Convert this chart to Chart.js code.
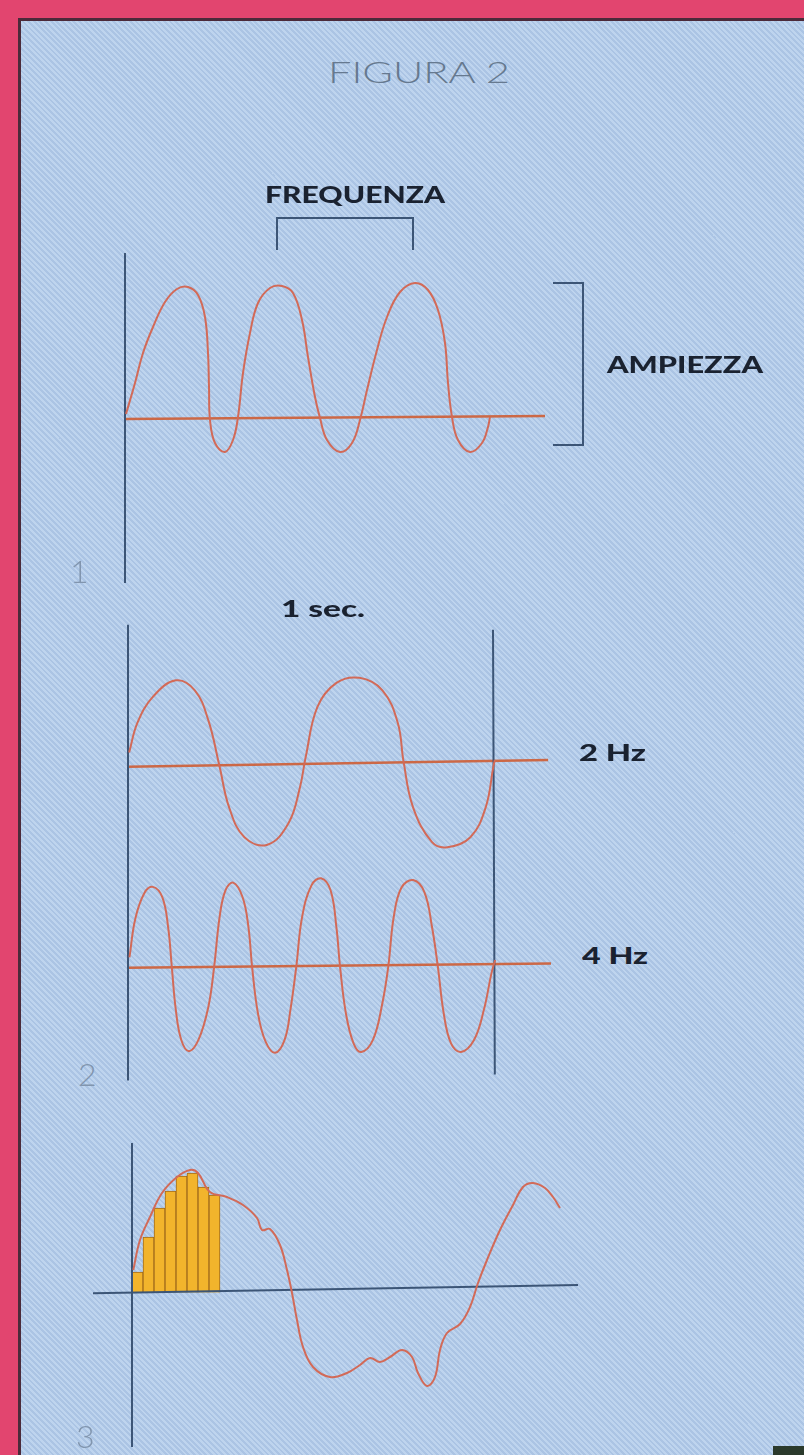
<!DOCTYPE html>
<html>
<head>
<meta charset="utf-8">
<title>Figura 2</title>
<script src="https://cdn.jsdelivr.net/npm/chart.js@4.4.1/dist/chart.umd.min.js"></script>
<style>
  html, body { margin: 0; padding: 0; }
  body {
    position: relative;
    width: 804px;
    height: 1455px;
    overflow: hidden;
    background: #e2456f;
  }
  #sheet {
    position: absolute;
    left: 18px;
    top: 18px;
    width: 786px;
    height: 1437px;
    box-sizing: border-box;
    border-left: 3px solid #4b2a3a;
    border-top: 3px solid #4b2a3a;
    background: repeating-linear-gradient(45deg, #bed4ee 0 2px, #abc4e4 2px 4px);
  }
  canvas { position: absolute; }
  .lbl {
    position: absolute;
    white-space: nowrap;
    line-height: 1;
    transform-origin: 0 0;
    z-index: 5;
  }
  .bold { font-family: Lato, "DejaVu Sans", sans-serif; font-weight: 900; color: #1a2230; }
  .thin { font-family: Lato, "Open Sans", sans-serif; font-weight: 300; }
  #corner {
    position: absolute;
    left: 773px;
    top: 1446px;
    width: 31px;
    height: 9px;
    background: #2b3a2c;
  }
</style>
</head>
<body>
<div id="sheet"></div>

<canvas id="panel1"></canvas>
<canvas id="panel2"></canvas>
<canvas id="panel3"></canvas>

<div class="lbl thin" data-w="182" style="left:328px; top:57px; font-size:29px; color:#66798f;">FIGURA 2</div>
<div class="lbl bold" data-w="180" style="left:265px; top:183px; font-size:23px;">FREQUENZA</div>
<div class="lbl bold" data-w="156" style="left:607px; top:353px; font-size:23px;">AMPIEZZA</div>
<div class="lbl bold" data-w="84" style="left:281px; top:597px; font-size:23px;">1 sec.</div>
<div class="lbl bold" data-w="67" style="left:579px; top:742px; font-size:22px;">2 Hz</div>
<div class="lbl bold" data-w="66" style="left:582px; top:945px; font-size:22px;">4 Hz</div>
<div class="lbl thin" style="left:70px; top:555px; font-size:32px; color:#8195ae;">1</div>
<div class="lbl thin" style="left:78px; top:1058px; font-size:32px; color:#8195ae;">2</div>
<div class="lbl thin" style="left:76px; top:1420px; font-size:32px; color:#8195ae;">3</div>
<div id="corner"></div>

<script>
// ---- values ----

// panel 1: x and y in divisions (10 px) from the axis / baseline
const wave1X = [0.1, 1.0, 1.8, 2.8, 4.0, 5.2, 6.3, 7.3, 8.0, 8.3, 8.4, 8.5, 9.0, 10.0, 10.8,
  11.3, 11.8, 12.5, 13.3, 14.5, 15.7, 16.8, 17.7, 18.3, 19.0, 19.5, 20.2, 21.5, 22.7, 23.5,
  24.2, 25.2, 26.2, 27.5, 29.0, 30.3, 31.3, 32.0, 32.3, 32.7, 33.3, 34.5, 35.7, 36.3, 36.5];
const wave1Y = [0.5, 3.6, 6.6, 9.2, 11.7, 13.0, 13.2, 12.4, 10.2, 6.6, 3.2, -0.1, -2.4, -3.3, -2.1,
  0.2, 4.6, 8.6, 11.6, 13.1, 13.3, 12.6, 9.9, 6.2, 2.2, 0.1, -2.1, -3.3, -2.4, -0.1,
  2.9, 6.9, 10.2, 12.7, 13.6, 12.9, 10.9, 7.6, 3.6, 0.2, -2.1, -3.3, -2.4, -0.8, 0.2];
const base1X = [0, 42.0];
const base1Y = [0, 0.3];
const axis1X = [0, 0];
const axis1Y = [16.6, -16.4];
const freqBracketX = [15.2, 15.2, 28.8, 28.8];
const freqBracketY = [16.9, 20.1, 20.1, 16.9];
const ampBracketX = [42.8, 45.8, 45.8, 42.8];
const ampBracketY = [13.6, 13.6, -2.6, -2.6];

// panel 2: time in seconds, amplitude normalised to the peak
const wave2hzT = [0.003, 0.026, 0.068, 0.131, 0.183, 0.220, 0.251, 0.277, 0.319, 0.382, 0.440, 0.471, 0.487,
  0.519, 0.571, 0.634, 0.697, 0.739, 0.755, 0.781, 0.833, 0.875, 0.938, 0.980, 1.001, 1.005];
const wave2hzA = [0.15, 0.51, 0.82, 1.02, 0.90, 0.54, -0.02, -0.51, -0.87, -0.96, -0.70, -0.27, 0.10,
  0.70, 0.99, 1.05, 0.90, 0.51, 0.04, -0.51, -0.93, -0.99, -0.87, -0.51, -0.02, 0.06];
const wave4hzT = [0.004, 0.020, 0.045, 0.068, 0.094, 0.110, 0.120, 0.131, 0.146, 0.167,
  0.193, 0.220, 0.236, 0.251, 0.267, 0.288, 0.314, 0.330, 0.340, 0.356,
  0.377, 0.403, 0.429, 0.445, 0.461, 0.477, 0.503, 0.529, 0.555, 0.571,
  0.581, 0.597, 0.618, 0.639, 0.671, 0.697, 0.713, 0.728, 0.749, 0.781,
  0.812, 0.833, 0.849, 0.865, 0.885, 0.912, 0.948, 0.975, 0.996, 1.006];
const wave4hzA = [0.10, 0.55, 0.85, 0.92, 0.80, 0.45, -0.01, -0.51, -0.86, -0.99,
  -0.86, -0.48, -0.01, 0.57, 0.88, 0.97, 0.80, 0.45, -0.01, -0.55,
  -0.88, -1.01, -0.86, -0.51, -0.01, 0.57, 0.94, 1.02, 0.88, 0.45,
  -0.01, -0.55, -0.90, -1.00, -0.86, -0.43, -0.01, 0.57, 0.91, 1.00,
  0.86, 0.45, -0.01, -0.55, -0.90, -1.00, -0.86, -0.51, -0.08, 0.07];
const base2hzT = [0, 1.151];
const base2hzA = [-0.02, 0.06];
const base4hzT = [0, 1.159];
const base4hzA = [-0.02, 0.03];
const secStartT = [0, 0];
const secStartA = [1.69, -3.80];
const secEndT = [1.0, 1.005];
const secEndA = [1.63, -3.73];

// panel 3: divisions (10 px) from the axis / baseline
const sig3X = [0.13, 0.8, 1.8, 3.0, 4.5, 5.8, 6.6, 7.8, 9.5, 11.1, 12.5, 13.0, 13.8, 14.8, 15.5,
  16.0, 16.5, 17.1, 18.1, 19.8, 21.5, 22.8, 23.8, 24.8, 25.8, 27.0, 28.0, 28.6, 29.5, 30.3,
  30.8, 31.5, 32.8, 33.8, 34.6, 35.5, 36.8, 38.1, 39.1, 40.1, 41.3, 42.1, 42.8];
const sig3Y = [2.0, 5.0, 7.3, 9.7, 11.3, 12.0, 11.7, 9.8, 9.3, 8.5, 7.2, 6.0, 6.1, 4.5, 2.0,
  -0.3, -3.0, -5.7, -7.7, -8.7, -8.3, -7.5, -6.8, -7.2, -6.7, -6.0, -6.7, -8.3, -9.6, -8.7,
  -6.0, -4.3, -3.4, -1.7, 0.7, 3.0, 6.0, 8.5, 10.3, 10.7, 10.2, 9.3, 8.2];
const samp3X = [0.55, 1.65, 2.75, 3.85, 4.95, 6.05, 7.15, 8.25];
const samp3Y = [1.8, 5.3, 8.2, 9.9, 11.4, 11.7, 10.3, 9.5];
const base3X = [-3.9, 44.6];
const base3Y = [-0.33, 0.5];
const axis3X = [0, 0];
const axis3Y = [14.7, -15.7];

// ---- layout (page pixels) ----
const P1 = { left: 80, top: 180, width: 540, height: 420, ox: 125, oy: 419, ux: 10, uy: 10 };
const P2 = { left: 100, top: 600, width: 480, height: 500, ox: 128, oy: 765, ux: 365, uy: 83 };
const P2_4HZ = { oy: 966, uy: 86 };
const P3 = { left: 60, top: 1130, width: 560, height: 325, ox: 132, oy: 1290, uy: 10, ux: 10 };

const WAVE = "#d26a58";
const BASE_RED = "#cc6846";
const INK = "#3c5576";

function pts(xs, ys) {
  return xs.map((x, i) => ({ x: x, y: ys[i] }));
}

function xRange(p) {
  return { min: (p.left - p.ox) / p.ux, max: (p.left + p.width - p.ox) / p.ux };
}

function yRange(p, oy, uy) {
  return { min: (oy - (p.top + p.height)) / uy, max: (oy - p.top) / uy };
}

function hidden(range, extra) {
  return Object.assign({ type: "linear", display: false, offset: false, min: range.min, max: range.max,
    ticks: { stepSize: 1000 } }, extra || {});
}

function line(xs, ys, color, width, extra) {
  return Object.assign({
    type: "line",
    data: pts(xs, ys),
    borderColor: color,
    borderWidth: width,
    pointRadius: 0,
    fill: false,
    tension: 0,
    clip: false,
  }, extra || {});
}

function smooth(xs, ys, color, width, extra) {
  return line(xs, ys, color, width, Object.assign({ tension: 0.4 }, extra || {}));
}

function build(id, p, scales, datasets) {
  const canvas = document.getElementById(id);
  canvas.width = p.width;
  canvas.height = p.height;
  canvas.style.left = p.left + "px";
  canvas.style.top = p.top + "px";
  canvas.style.width = p.width + "px";
  canvas.style.height = p.height + "px";

  return new Chart(canvas.getContext("2d"), {
    type: "line",
    data: { datasets: datasets },
    options: {
      responsive: false,
      animation: false,
      devicePixelRatio: 1,
      layout: { padding: 0 },
      plugins: { legend: { display: false }, tooltip: { enabled: false } },
      scales: scales,
    },
  });
}

function fitLabels() {
  document.querySelectorAll(".lbl[data-w]").forEach((el) => {
    const target = parseFloat(el.dataset.w);
    const natural = el.getBoundingClientRect().width;
    if (natural > 0) el.style.transform = `scaleX(${target / natural})`;
  });
}

// panel 1 - frequenza / ampiezza
build("panel1", P1, {
  x: hidden(xRange(P1)),
  y: hidden(yRange(P1, P1.oy, P1.uy)),
}, [
  smooth(wave1X, wave1Y, WAVE, 2),
  line(axis1X, axis1Y, INK, 2),
  line(base1X, base1Y, BASE_RED, 2.5),
  line(freqBracketX, freqBracketY, INK, 2),
  line(ampBracketX, ampBracketY, INK, 2),
]);

// panel 2 - 2 Hz and 4 Hz within 1 sec.
build("panel2", P2, {
  x: hidden(xRange(P2)),
  y2: hidden(yRange(P2, P2.oy, P2.uy), { axis: "y" }),
  y4: hidden(yRange(P2, P2_4HZ.oy, P2_4HZ.uy), { axis: "y" }),
}, [
  smooth(wave2hzT, wave2hzA, WAVE, 2, { yAxisID: "y2" }),
  smooth(wave4hzT, wave4hzA, WAVE, 2, { yAxisID: "y4" }),
  line(secStartT, secStartA, INK, 2, { yAxisID: "y2" }),
  line(secEndT, secEndA, INK, 2, { yAxisID: "y2" }),
  line(base2hzT, base2hzA, BASE_RED, 2.5, { yAxisID: "y2" }),
  line(base4hzT, base4hzA, BASE_RED, 2.5, { yAxisID: "y4" }),
]);

// panel 3 - sampled signal
build("panel3", P3, {
  x: hidden(xRange(P3)),
  y: hidden(yRange(P3, P3.oy, P3.uy)),
}, [
  smooth(sig3X, sig3Y, WAVE, 2),
  line(axis3X, axis3Y, INK, 2),
  line(base3X, base3Y, INK, 2),
  {
    type: "bar",
    data: pts(samp3X, samp3Y),
    base: -0.25,
    backgroundColor: "#f2b42c",
    borderColor: "#a06a1c",
    borderWidth: { left: 1, right: 1, top: 1, bottom: 0 },
    borderSkipped: false,
    barPercentage: 1,
    categoryPercentage: 1,
  },
]);

fitLabels();
</script>
</body>
</html>
